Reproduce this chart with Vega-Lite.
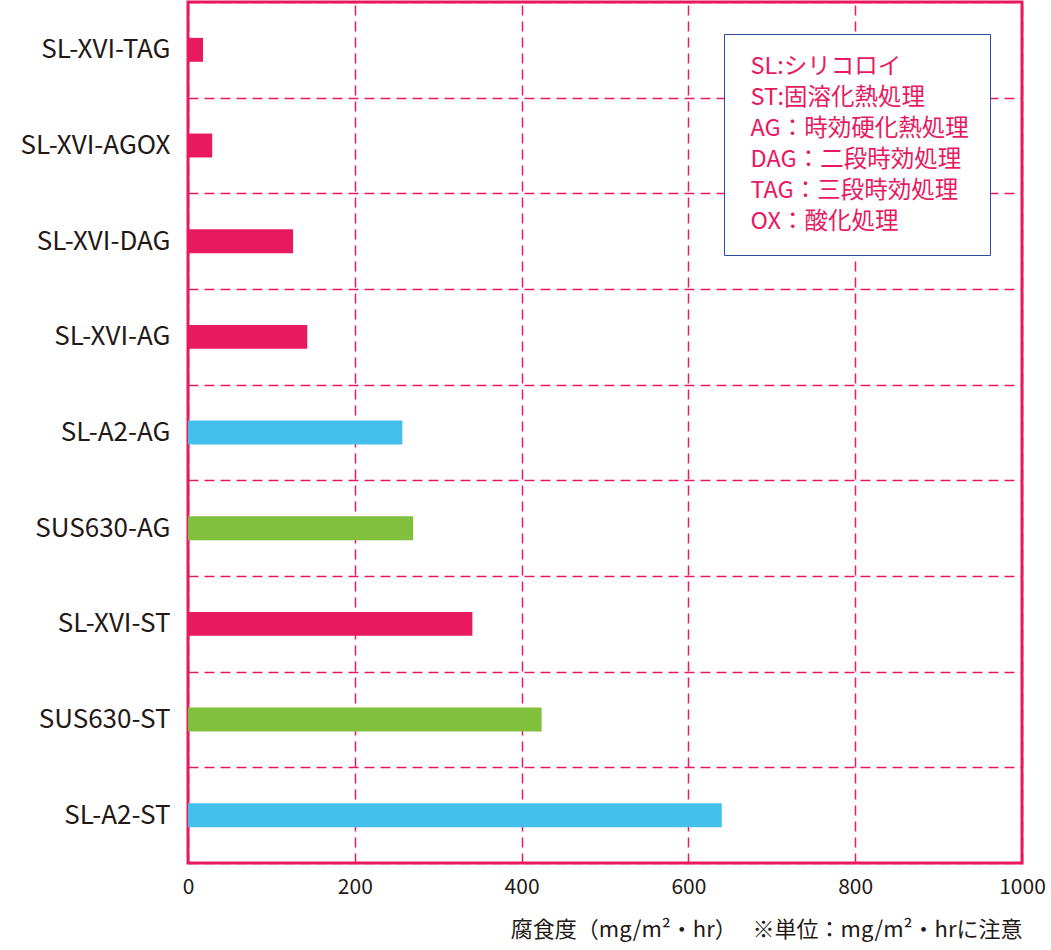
{
  "$schema": "https://vega.github.io/schema/vega-lite/v6.json",
  "width": 834,
  "height": 861,
  "autosize": "none",
  "padding": {"left": 188, "top": 2, "right": 29, "bottom": 87},
  "background": "white",
  "config": {
    "view": {"stroke": "#E8195F", "strokeWidth": 3},
    "font": "Noto Sans CJK JP"
  },
  "datasets": {
    "bars": [
      {"sample": "SL-XVI-TAG", "material": "SL-XVI", "rate": 18},
      {"sample": "SL-XVI-AGOX", "material": "SL-XVI", "rate": 29},
      {"sample": "SL-XVI-DAG", "material": "SL-XVI", "rate": 126},
      {"sample": "SL-XVI-AG", "material": "SL-XVI", "rate": 143},
      {"sample": "SL-A2-AG", "material": "SL-A2", "rate": 257},
      {"sample": "SUS630-AG", "material": "SUS630", "rate": 270},
      {"sample": "SL-XVI-ST", "material": "SL-XVI", "rate": 341},
      {"sample": "SUS630-ST", "material": "SUS630", "rate": 424},
      {"sample": "SL-A2-ST", "material": "SL-A2", "rate": 640}
    ],
    "notes": [
      {"note": "SL:シリコロイ"},
      {"note": "ST:固溶化熱処理"},
      {"note": "AG：時効硬化熱処理"},
      {"note": "DAG：二段時効処理"},
      {"note": "TAG：三段時効処理"},
      {"note": "OX：酸化処理"}
    ]
  },
  "layer": [
    {
      "data": {"name": "bars"},
      "mark": {"type": "bar", "height": {"band": 0.25}},
      "encoding": {
        "y": {
          "field": "sample",
          "type": "nominal",
          "sort": ["SL-XVI-TAG", "SL-XVI-AGOX", "SL-XVI-DAG", "SL-XVI-AG", "SL-A2-AG", "SUS630-AG", "SL-XVI-ST", "SUS630-ST", "SL-A2-ST"],
          "scale": {"paddingInner": 0, "paddingOuter": 0},
          "axis": {
            "title": null,
            "domain": false,
            "ticks": false,
            "tickBand": "extent",
            "grid": true,
            "gridColor": "#E8195F",
            "gridDash": [10, 6],
            "gridWidth": 1.5,
            "labelFontSize": 26,
            "labelColor": "#231815",
            "labelPadding": 18,
            "labelLimit": 200
          }
        },
        "x": {
          "field": "rate",
          "type": "quantitative",
          "scale": {"domain": [0, 1000], "nice": false},
          "axis": {
            "values": [0, 200, 400, 600, 800, 1000],
            "format": "d",
            "domain": false,
            "ticks": false,
            "grid": true,
            "gridColor": "#E8195F",
            "gridDash": [10, 6],
            "gridWidth": 1.5,
            "labelFontSize": 21,
            "labelColor": "#231815",
            "labelPadding": 13,
            "labelFlush": false,
            "title": "腐食度（mg/m²・hr）　 ※単位：mg/m²・hrに注意",
            "titleFontSize": 22,
            "titleFontWeight": "normal",
            "titleColor": "#231815",
            "titleAnchor": "end",
            "titlePadding": 22
          }
        },
        "color": {
          "field": "material",
          "type": "nominal",
          "scale": {"domain": ["SL-XVI", "SL-A2", "SUS630"], "range": ["#E8195F", "#44BFEC", "#80C03C"]},
          "legend": null
        }
      }
    },
    {
      "data": {"name": "notes"},
      "mark": {"type": "point", "opacity": 0},
      "encoding": {
        "shape": {
          "field": "note",
          "type": "nominal",
          "scale": {"domain": ["SL:シリコロイ", "ST:固溶化熱処理", "AG：時効硬化熱処理", "DAG：二段時効処理", "TAG：三段時効処理", "OX：酸化処理"], "range": ["circle"]},
          "legend": {
            "title": null,
            "orient": "top-right",
            "offset": 32,
            "padding": 21,
            "fillColor": "white",
            "strokeColor": "#2B4DA0",
            "symbolSize": 0,
            "symbolStrokeWidth": 0,
            "symbolOpacity": 0,
            "labelOffset": -18,
            "labelColor": "#E8195F",
            "labelFontSize": 23.5,
            "labelLimit": 400,
            "rowPadding": 6
          }
        }
      }
    }
  ]
}
